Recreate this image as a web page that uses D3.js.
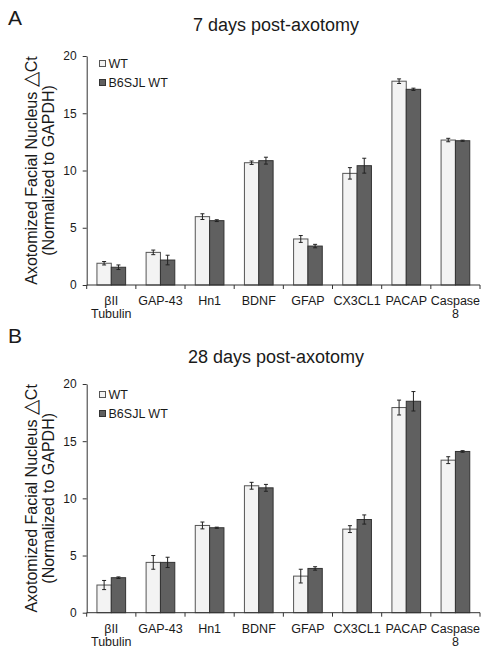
<!DOCTYPE html>
<html>
<head>
<meta charset="utf-8">
<script src="https://cdn.jsdelivr.net/npm/d3@7"></script>
<style>
  body { margin: 0; background: #fff; }
  svg { display: block; font-family: "Liberation Sans", Arial, sans-serif; }
</style>
</head>
<body>
<svg id="chart" width="490" height="654"></svg>
<script>
// ---- data ----
const categories = [["βII", "Tubulin"], ["GAP-43"], ["Hn1"], ["BDNF"], ["GFAP"], ["CX3CL1"], ["PACAP"], ["Caspase", "8"]];
const seriesNames = ["WT", "B6SJL WT"];
const yTicks = [0, 5, 10, 15, 20];

const wt7 = [1.9, 2.85, 5.97, 10.68, 4.02, 9.75, 17.8, 12.66];
const wt7Err = [0.15, 0.2, 0.25, 0.15, 0.3, 0.5, 0.2, 0.15];
const b6_7 = [1.55, 2.18, 5.62, 10.86, 3.4, 10.42, 17.09, 12.6];
const b6_7Err = [0.2, 0.42, 0.08, 0.3, 0.15, 0.65, 0.1, 0.05];

const wt28 = [2.42, 4.4, 7.63, 11.1, 3.2, 7.31, 17.94, 13.34];
const wt28Err = [0.4, 0.6, 0.3, 0.3, 0.6, 0.3, 0.65, 0.3];
const b6_28 = [3.06, 4.4, 7.43, 10.92, 3.87, 8.15, 18.49, 14.1];
const b6_28Err = [0.07, 0.45, 0.05, 0.3, 0.15, 0.4, 0.85, 0.07];

const panels = [
  { letter: "A", title: "7 days post-axotomy", vals: [wt7, b6_7], errs: [wt7Err, b6_7Err],
    top: 56, bottom: 285, letterY: 25, titleY: 31, legY: [68, 87], catY: 305 },
  { letter: "B", title: "28 days post-axotomy", vals: [wt28, b6_28], errs: [wt28Err, b6_28Err],
    top: 384, bottom: 612.7, letterY: 343, titleY: 363, legY: [399, 418], catY: 633 }
];

const fills = ["#f3f3f3", "#606060"];
const strokes = ["#555", "#333"];
const textColor = "#1a1a1a";

const svg = d3.select("#chart");
const left = 86.7, right = 480;
const catKeys = categories.map(c => c.join(" "));

const x = d3.scaleBand().domain(catKeys).range([left, right]).padding(0);
const x1 = d3.scaleBand().domain(seriesNames).range([0, x.bandwidth()]).paddingInner(0).paddingOuter(0.714);

panels.forEach(p => {
  const g = svg.append("g");
  const y = d3.scaleLinear().domain([0, 20]).range([p.bottom, p.top]);

  // Panel letter
  g.append("text").attr("x", 8).attr("y", p.letterY).attr("font-size", 21)
    .attr("fill", textColor).text(p.letter);
  // Title
  g.append("text").attr("x", 276).attr("y", p.titleY).attr("font-size", 18)
    .attr("text-anchor", "middle").attr("fill", textColor).text(p.title);

  // Y axis
  const yAxis = g.append("g").attr("transform", `translate(${left},0)`)
    .call(d3.axisLeft(y).tickValues(yTicks).tickSize(4).tickPadding(6).tickSizeOuter(0));
  yAxis.select(".domain").attr("stroke", "#333");
  yAxis.selectAll(".tick line").attr("stroke", "#333");
  yAxis.selectAll(".tick text").attr("font-size", 12).attr("fill", textColor)
    .attr("font-family", "Liberation Sans, Arial, sans-serif");

  // Y label
  const cy = (p.top + p.bottom) / 2;
  const l1 = g.append("text").attr("transform", `translate(37,${cy}) rotate(-90)`)
    .attr("text-anchor", "middle").attr("font-size", 16).attr("fill", textColor);
  l1.append("tspan").text("Axotomized Facial Nucleus ");
  l1.append("tspan").attr("font-size", 20).text("△");
  l1.append("tspan").text("Ct");
  g.append("text").attr("transform", `translate(54,${cy}) rotate(-90)`)
    .attr("text-anchor", "middle").attr("font-size", 16).attr("fill", textColor)
    .text("(Normalized to GAPDH)");

  // Bars
  seriesNames.forEach((s, si) => {
    const vals = p.vals[si], errs = p.errs[si];
    const bg = g.append("g");
    bg.selectAll("rect").data(catKeys).join("rect")
      .attr("x", (c) => x(c) + x1(s))
      .attr("y", (c, i) => y(vals[i]))
      .attr("width", x1.bandwidth())
      .attr("height", (c, i) => y(0) - y(vals[i]))
      .attr("fill", fills[si]).attr("stroke", strokes[si]).attr("stroke-width", 1);
    // Error bars
    const eg = g.append("g").attr("stroke", "#222").attr("stroke-width", 1);
    catKeys.forEach((c, i) => {
      const cx = x(c) + x1(s) + x1.bandwidth() / 2;
      const y1 = y(vals[i] + errs[i]), y2 = y(vals[i] - errs[i]);
      eg.append("line").attr("x1", cx).attr("x2", cx).attr("y1", y1).attr("y2", y2);
      eg.append("line").attr("x1", cx - 2).attr("x2", cx + 2).attr("y1", y1).attr("y2", y1);
      eg.append("line").attr("x1", cx - 2).attr("x2", cx + 2).attr("y1", y2).attr("y2", y2);
    });
  });

  // X axis line and ticks at band boundaries
  g.append("line").attr("x1", left).attr("x2", right).attr("y1", y(0)).attr("y2", y(0))
    .attr("stroke", "#333");
  const bounds = catKeys.map(c => x(c)).concat([right]);
  g.selectAll(".xt").data(bounds).join("line").attr("class", "xt")
    .attr("x1", d => d).attr("x2", d => d).attr("y1", y(0)).attr("y2", y(0) + 4)
    .attr("stroke", "#333");

  // Category labels
  categories.forEach((c, i) => {
    const t = g.append("text").attr("x", x(catKeys[i]) + x.bandwidth() / 2).attr("y", p.catY)
      .attr("text-anchor", "middle").attr("font-size", 12.5).attr("fill", textColor);
    c.forEach((line, li) => {
      t.append("tspan").attr("x", x(catKeys[i]) + x.bandwidth() / 2)
        .attr("dy", li === 0 ? 0 : 12.5).text(line);
    });
  });

  // Legend
  seriesNames.forEach((s, si) => {
    const ly = p.legY[si];
    g.append("rect").attr("x", 99.5).attr("y", ly - 7.5).attr("width", 6).attr("height", 6)
      .attr("fill", fills[si]).attr("stroke", strokes[si]);
    g.append("text").attr("x", 108.5).attr("y", ly).attr("font-size", 12.5)
      .attr("fill", textColor).text(s);
  });
});
</script>
</body>
</html>
